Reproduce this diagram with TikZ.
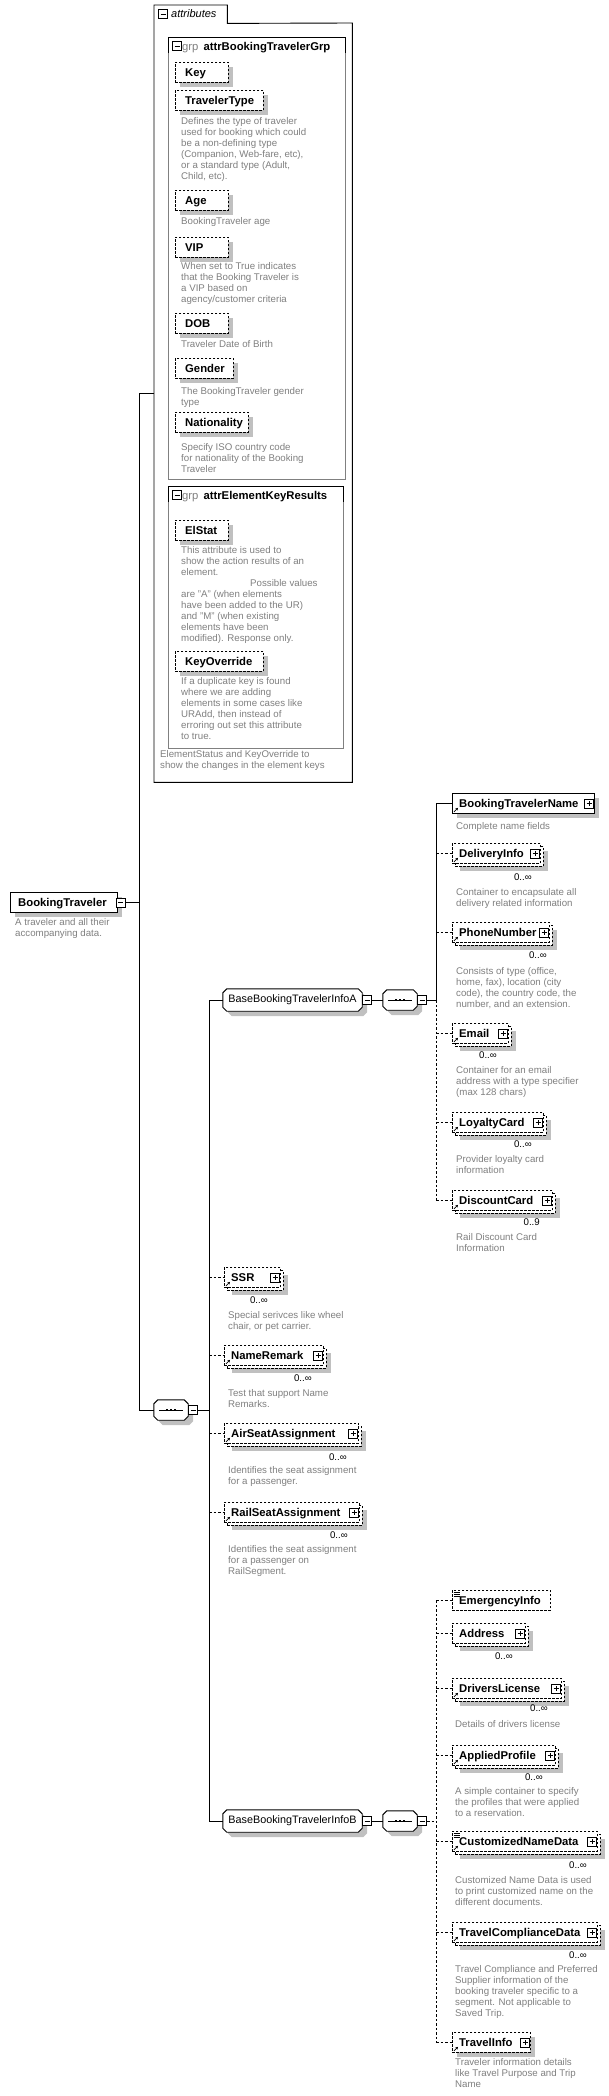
\documentclass[tikz,border=0pt]{standalone}
\usepackage{fontspec}
\setmainfont{Liberation Sans}
\usetikzlibrary{shadows,arrows.meta}
\definecolor{dgray}{RGB}{128,128,128}
\definecolor{shgray}{RGB}{192,192,192}
\tikzset{
  sh/.style={general shadow={shadow xshift=5pt,shadow yshift=-5pt,fill=shgray}},
  boxbase/.style={rectangle, fill=white, line width=0.9pt, minimum height=20pt, inner sep=0pt},
  reqbox/.style={boxbase, draw, sh},
  optbox/.style={boxbase, draw, dash pattern=on 2.5pt off 1.5pt, sh},
  optplain/.style={boxbase, draw, dash pattern=on 2.5pt off 1.5pt},
  eltext/.style={font=\fontsize{11.3}{13}\selectfont\bfseries, inner sep=0pt, text height=8pt, text depth=0pt},
  desc/.style={font=\fontsize{9.7}{11}\selectfont, text=dgray, align=left, inner sep=0pt, anchor=north west},
  mult/.style={font=\fontsize{9.7}{11}\selectfont, inner sep=0pt, anchor=east},
  pmbox/.style={draw, fill=white, line width=0.8pt, minimum size=9pt, inner sep=0pt},
  minusbox/.style={pmbox, path picture={\draw[line width=0.8pt] ([xshift=2pt]path picture bounding box.west) -- ([xshift=-2pt]path picture bounding box.east);}},
  plusbox/.style={pmbox, path picture={\draw[line width=0.8pt] ([xshift=2pt]path picture bounding box.west) -- ([xshift=-2pt]path picture bounding box.east); \draw[line width=0.8pt] ([yshift=2pt]path picture bounding box.south) -- ([yshift=-2pt]path picture bounding box.north);}},
  conn/.style={line width=0.9pt},
  oconn/.style={line width=0.9pt, dash pattern=on 2.5pt off 2pt},
  frame/.style={rectangle, inner sep=0pt},
  grptext/.style={inner sep=0pt, font=\fontsize{10.8}{13}\selectfont},
  grptitle/.style={anchor=west, inner sep=0pt, font=\fontsize{11.3}{13}\selectfont, text height=8pt, text depth=0pt},
}
\newcommand\txoff{7pt}
\newcommand\elnode[6]{%
  \pgfmathsetmacro\elw{#4-#2}%
  \node[#5, minimum width=\elw pt, anchor=north west] (#1) at (#2,#3) {};%
  \node[eltext, anchor=west] (#1-t) at ([xshift=\txoff]#1.west) {#6};%
}
\newcommand\elmulti[5]{%
  \pgfmathsetmacro\elw{#4-#2}%
  \node[optbox, minimum width=\elw pt, anchor=north west] (#1-b) at (#2+3,#3+3) {};%
  \node[optplain, minimum width=\elw pt, anchor=north west] (#1) at (#2,#3) {};%
  \node[eltext, anchor=west] (#1-t) at ([xshift=\txoff]#1.west) {#5};%
}
\newcommand\plusat[1]{\node[plusbox, anchor=east] (#1-p) at ([xshift=-1pt]#1.east) {};}
\newcommand\lnk[1]{\draw[line width=0.8pt,-{Stealth[length=2.5pt,width=2.8pt]}] ([xshift=2pt,yshift=2pt]#1.south west) -- ++(4pt,4pt);}
\newcommand\simp[1]{\foreach \k in {2,4,6} \draw[line width=0.6pt] ([xshift=1.5pt,yshift=-\k pt]#1.north west) -- ++(6pt,0pt);}
\newcommand\octa[1]{%
  \fill[shgray] ([xshift=9pt,yshift=-5pt]#1.north west) -- ([xshift=1pt,yshift=-5pt]#1.north east) -- ([xshift=5pt,yshift=-9pt]#1.north east) -- ([xshift=5pt,yshift=-1pt]#1.south east) -- ([xshift=1pt,yshift=-5pt]#1.south east) -- ([xshift=9pt,yshift=-5pt]#1.south west) -- ([xshift=5pt,yshift=-1pt]#1.south west) -- ([xshift=5pt,yshift=-9pt]#1.north west) -- cycle;
  \draw[conn,fill=white] ([xshift=4pt]#1.north west) -- ([xshift=-4pt]#1.north east) -- ([yshift=-4pt]#1.north east) -- ([yshift=4pt]#1.south east) -- ([xshift=-4pt]#1.south east) -- ([xshift=4pt]#1.south west) -- ([yshift=4pt]#1.south west) -- ([yshift=-4pt]#1.north west) -- cycle;
}
\newcommand\seqsym[1]{%
  \draw[line width=0.8pt] ([xshift=5pt]#1.west) -- ([xshift=-5pt]#1.east);
  \foreach \dx in {-4,0,4} \fill ([xshift=\dx pt-1pt,yshift=-1pt]#1.center) rectangle ++(2pt,2pt);
}
\begin{document}
\begin{tikzpicture}[x=1pt,y=-1pt]
\fill[white] (0,0) rectangle (609,2096);
\useasboundingbox (0,0) rectangle (609,2096);

% ---------------- attributes ----------------
\node[inner sep=0pt, minimum width=198pt, minimum height=759pt, anchor=north west] (attr) at (154,23) {};
\node[inner sep=0pt, minimum width=73pt, minimum height=18pt, anchor=north west] (attrtab) at (154,5) {};
\draw[conn] (attr.south west) -- (attrtab.north west) -- (attrtab.north east) -- (attrtab.south east) -- (attr.north east) -- (attr.south east) -- cycle;
\node[minusbox] (attrtab-m) at (163,14) {};
\node[anchor=west, inner sep=0pt, font=\fontsize{11}{13}\selectfont\itshape] (attrtab-t) at (171,14) {attributes};

\node[draw=dgray, line width=0.9pt, inner sep=0pt, minimum width=177pt, minimum height=442pt, anchor=north west] (grp1) at (168,37) {};
\draw[conn] ([yshift=-16pt]grp1.north west) -- (grp1.north west) -- (grp1.north east) -- ([yshift=-16pt]grp1.north east);
\node[minusbox] (grp1-m) at (177,46) {};
\node[grptitle] (grp1-t) at (182,46) {\textcolor{dgray}{grp}\hspace{5pt}\textbf{attrBookingTravelerGrp}};

\renewcommand\txoff{10pt}
\elnode{key}{175}{62}{228}{optbox}{Key}
\elnode{ttype}{175}{90}{263}{optbox}{TravelerType}
\node[desc] (ttype-d) at (181,117.5) {Defines the type of traveler\\used for booking which could\\be a non-defining type\\(Companion, Web-fare, etc),\\or a standard type (Adult,\\Child, etc).};
\elnode{age}{175}{190}{228}{optbox}{Age}
\node[desc] (age-d) at (181,217.5) {BookingTraveler age};
\elnode{vip}{175}{237}{228}{optbox}{VIP}
\node[desc] (vip-d) at (181,262.5) {When set to True indicates\\that the Booking Traveler is\\a VIP based on\\agency/customer criteria};
\elnode{dob}{175}{313}{228}{optbox}{DOB}
\node[desc] (dob-d) at (181,340.5) {Traveler Date of Birth};
\elnode{gender}{175}{358}{233}{optbox}{Gender}
\node[desc] (gender-d) at (181,387.5) {The BookingTraveler gender\\type};
\elnode{nat}{175}{412}{248}{optbox}{Nationality}
\node[desc] (nat-d) at (181,443.5) {Specify ISO country code\\for nationality of the Booking\\Traveler};

\node[draw=dgray, line width=0.9pt, inner sep=0pt, minimum width=175pt, minimum height=262pt, anchor=north west] (grp2) at (168,486) {};
\draw[conn] ([yshift=-16pt]grp2.north west) -- (grp2.north west) -- (grp2.north east) -- ([yshift=-16pt]grp2.north east);
\node[minusbox] (grp2-m) at (177,495) {};
\node[grptitle] (grp2-t) at (182,495) {\textcolor{dgray}{grp}\hspace{5pt}\textbf{attrElementKeyResults}};
\elnode{elstat}{175}{520}{228}{optbox}{ElStat}
\node[desc] (elstat-d) at (181,546) {This attribute is used to\\show the action results of an\\element.\\\hspace*{69pt}Possible values\\are "A" (when elements\\have been added to the UR)\\and "M" (when existing\\elements have been\\modified). Response only.};
\elnode{keyov}{175}{651}{263}{optbox}{KeyOverride}
\node[desc] (keyov-d) at (181,677.5) {If a duplicate key is found\\where we are adding\\elements in some cases like\\URAdd, then instead of\\erroring out set this attribute\\to true.};
\node[desc] (attr-d) at (160,750.5) {ElementStatus and KeyOverride to\\show the changes in the element keys};

% ---------------- root ----------------
\renewcommand\txoff{8pt}
\elnode{bt}{10}{892}{117}{reqbox}{BookingTraveler}
\node[minusbox, anchor=west] (bt-m) at ([xshift=-2pt]bt.east) {};
\node[desc] (bt-d) at (15,918.5) {A traveler and all their\\accompanying data.};

\coordinate (a1) at (139,393);
\coordinate (v2) at (209,0);
\coordinate (v3) at (436,0);

\node[frame, minimum width=34pt, minimum height=20pt] (seq1) at (171,1410) {};
\octa{seq1}\seqsym{seq1}
\node[minusbox, anchor=west] (seq1-m) at (seq1.east) {};

\draw[conn] (a1 -| attr.west) -- (a1) -- (a1 |- seq1.west) -- (seq1.west);
\draw[conn] (bt-m.east) -- (bt-m.east -| a1);
\draw[conn] (seq1-m.east) -- (seq1-m.east -| v2);

% ---------------- group A ----------------
\node[frame, minimum width=139pt, minimum height=22pt] (infoA) at (292.5,1000) {};
\octa{infoA}
\node[grptext] (infoA-t) at (infoA.center) {BaseBookingTravelerInfoA};
\node[minusbox, anchor=west] (infoA-m) at (infoA.east) {};
\node[frame, minimum width=34pt, minimum height=20pt] (seqA) at (400,1000) {};
\octa{seqA}\seqsym{seqA}
\node[minusbox, anchor=west] (seqA-m) at (seqA.east) {};
\draw[conn] (infoA-m.east) -- (seqA.west);

\node[frame, minimum width=139pt, minimum height=22pt] (infoB) at (292.5,1821) {};
\octa{infoB}
\node[grptext] (infoB-t) at (infoB.center) {BaseBookingTravelerInfoB};
\node[minusbox, anchor=west] (infoB-m) at (infoB.east) {};
\node[frame, minimum width=34pt, minimum height=20pt] (seqB) at (400,1821) {};
\octa{seqB}\seqsym{seqB}
\node[minusbox, anchor=west] (seqB-m) at (seqB.east) {};
\draw[conn] (infoB-m.east) -- (seqB.west);

\draw[conn] (infoA.west) -- (infoA.west -| v2) -- (infoB.west -| v2) -- (infoB.west);

\renewcommand\txoff{7pt}
\elnode{btn}{452}{793}{594}{reqbox}{BookingTravelerName}\plusat{btn}\lnk{btn}
\node[desc] (btn-d) at (456,822.5) {Complete name fields};
\elmulti{dlv}{452}{843}{540}{DeliveryInfo}\plusat{dlv}\lnk{dlv}
\node[mult] (dlv-m) at (532,877) {0..∞};
\node[desc] (dlv-d) at (456,888.5) {Container to encapsulate all\\delivery related information};
\elmulti{phone}{452}{922}{549}{PhoneNumber}\plusat{phone}\lnk{phone}
\node[mult] (phone-m) at (547,955) {0..∞};
\node[desc] (phone-d) at (456,967.5) {Consists of type (office,\\home, fax), location (city\\code), the country code, the\\number, and an extension.};
\elmulti{email}{452}{1023}{508}{Email}\plusat{email}\lnk{email}
\node[mult] (email-m) at (497,1055) {0..∞};
\node[desc] (email-d) at (456,1066.5) {Container for an email\\address with a type specifier\\(max 128 chars)};
\elmulti{loyal}{452}{1112}{543}{LoyaltyCard}\plusat{loyal}\lnk{loyal}
\node[mult] (loyal-m) at (532,1144) {0..∞};
\node[desc] (loyal-d) at (456,1155.5) {Provider loyalty card\\information};
\elmulti{disc}{452}{1190}{552}{DiscountCard}\plusat{disc}\lnk{disc}
\node[mult] (disc-m) at (540,1222) {0..9};
\node[desc] (disc-d) at (456,1233.5) {Rail Discount Card\\Information};

\draw[conn] (seqA-m.east) -- (seqA-m.east -| v3);
\draw[conn] (btn.west -| v3) -- (seqA-m.east -| v3);
\draw[oconn] (seqA-m.east -| v3) -- (disc.west -| v3);
\draw[conn] (btn.west -| v3) -- (btn.west);
\foreach \n in {dlv,phone,email,loyal,disc} \draw[oconn] (\n.west -| v3) -- (\n.west);

% ---------------- sequence children ----------------
\elmulti{ssr}{224}{1267}{280}{SSR}\plusat{ssr}\lnk{ssr}
\node[mult] (ssr-m) at (268,1300) {0..∞};
\node[desc] (ssr-d) at (228,1311.5) {Special serivces like wheel\\chair, or pet carrier.};
\elmulti{nrem}{224}{1345}{323}{NameRemark}\plusat{nrem}\lnk{nrem}
\node[mult] (nrem-m) at (312,1378) {0..∞};
\node[desc] (nrem-d) at (228,1389.5) {Test that support Name\\Remarks.};
\elmulti{air}{224}{1423}{358}{AirSeatAssignment}\plusat{air}\lnk{air}
\node[mult] (air-m) at (347,1457) {0..∞};
\node[desc] (air-d) at (228,1466.5) {Identifies the seat assignment\\for a passenger.};
\elmulti{rail}{224}{1502}{359}{RailSeatAssignment}\plusat{rail}\lnk{rail}
\node[mult] (rail-m) at (348,1535) {0..∞};
\node[desc] (rail-d) at (228,1545.5) {Identifies the seat assignment\\for a passenger on\\RailSegment.};
\foreach \n in {ssr,nrem,air,rail} \draw[oconn] (\n.west -| v2) -- (\n.west);

% ---------------- group B children ----------------
\elnode{emerg}{452}{1590}{550}{optplain}{EmergencyInfo}\simp{emerg}
\elmulti{addr}{452}{1623}{525}{Address}\plusat{addr}
\node[mult] (addr-m) at (513,1656) {0..∞};
\elmulti{drv}{452}{1678}{561}{DriversLicense}\plusat{drv}\lnk{drv}
\node[mult] (drv-m) at (548,1708) {0..∞};
\node[desc] (drv-d) at (455,1720.5) {Details of drivers license};
\elmulti{prof}{452}{1745}{555}{AppliedProfile}\plusat{prof}\lnk{prof}
\node[mult] (prof-m) at (543,1777) {0..∞};
\node[desc] (prof-d) at (455,1787.5) {A simple container to specify\\the profiles that were applied\\to a reservation.};
\elmulti{cnd}{452}{1831}{597}{CustomizedNameData}\plusat{cnd}\lnk{cnd}\simp{cnd}
\node[mult] (cnd-m) at (587,1865) {0..∞};
\node[desc] (cnd-d) at (455,1876.5) {Customized Name Data is used\\to print customized name on the\\different documents.};
\elmulti{tcd}{452}{1922}{597}{TravelComplianceData}\plusat{tcd}\lnk{tcd}
\node[mult] (tcd-m) at (587,1955) {0..∞};
\node[desc] (tcd-d) at (455,1965.5) {Travel Compliance and Preferred\\Supplier information of the\\booking traveler specific to a\\segment. Not applicable to\\Saved Trip.};
\elnode{tinfo}{452}{2032}{530}{optbox}{TravelInfo}\plusat{tinfo}\lnk{tinfo}
\node[desc] (tinfo-d) at (455,2058.5) {Traveler information details\\like Travel Purpose and Trip\\Name};

\draw[oconn] (seqB-m.east) -- (seqB-m.east -| v3);
\draw[oconn] (emerg.west -| v3) -- (tinfo.west -| v3);
\foreach \n in {emerg,addr,drv,prof,cnd,tcd,tinfo} \draw[oconn] (\n.west -| v3) -- (\n.west);
\end{tikzpicture}
\end{document}
